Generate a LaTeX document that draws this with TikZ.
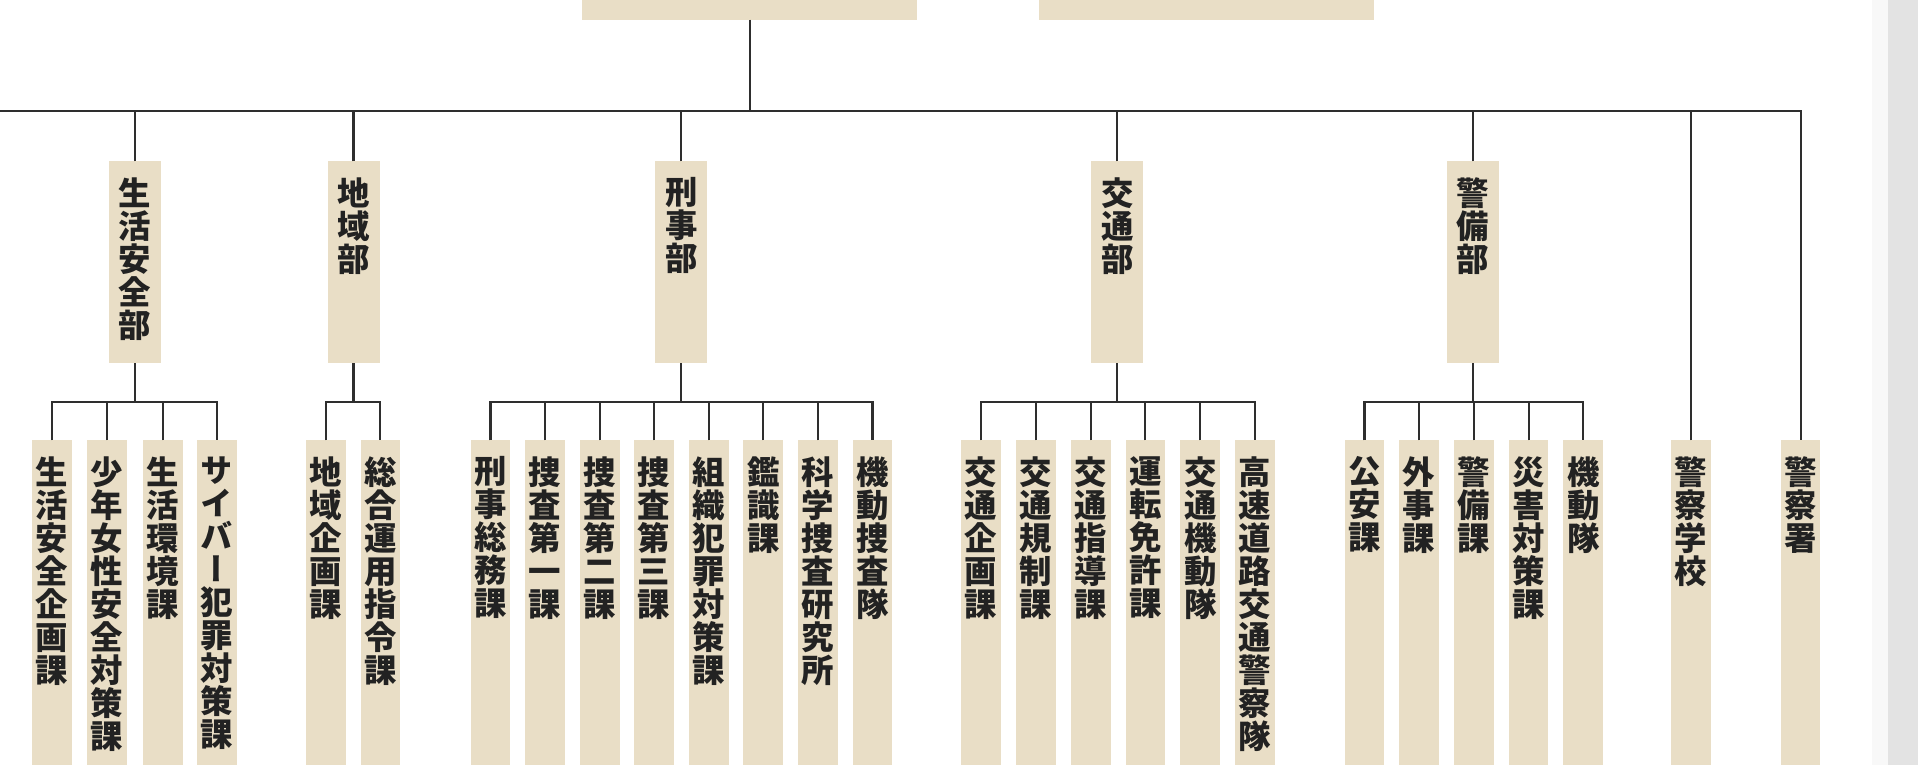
\documentclass[tikz,border=0pt]{standalone}
\usepackage{fontspec}
\newfontfamily\jp{Noto Sans CJK JP}[RawFeature={+vert}]
\definecolor{boxcol}{HTML}{E9DEC6}
\definecolor{linecol}{HTML}{2E2E2E}
\definecolor{txtcol}{HTML}{222222}
\definecolor{sidecol}{HTML}{E3E3E3}
\definecolor{bandcol}{HTML}{F8F8F8}
\begin{document}
\begin{tikzpicture}[x=1pt,y=-1pt,
  conn/.style={draw=linecol, line width=1.7pt},
  topbox/.style={fill=boxcol, minimum width=274pt, minimum height=16pt, inner sep=0pt, outer sep=0pt, anchor=north west},
  dept/.style={fill=boxcol, minimum width=42.5pt, minimum height=165pt, inner sep=0pt, outer sep=0pt},
  subbox/.style={fill=boxcol, minimum width=32.5pt, minimum height=265pt, inner sep=0pt, outer sep=0pt},
  vtext/.style={font=\jp\bfseries\fontsize{26.5}{27}\selectfont, align=center, inner sep=0pt, anchor=north, text=txtcol, yshift=-13pt}]
\useasboundingbox (0,0) rectangle (1568,625);
\fill[white] (0,0) rectangle (1568,625);
\fill[bandcol] (1530,0) rectangle (1543.6,625);
\fill[sidecol] (1543.6,0) rectangle (1568,625);

% top boxes (text cut off by the frame)
\node[topbox] (top1) at (476,0) {};
\node[topbox] (top2) at (849,0) {};

\coordinate (hl) at (0,91);
\coordinate (br) at (0,329);

% departments
\node[dept] (d1) at (110.5,214.5) {};
\node[dept] (d2) at (289,214.5) {};
\node[dept] (d3) at (557,214.5) {};
\node[dept] (d4) at (913.5,214.5) {};
\node[dept] (d5) at (1204,214.5) {};
\node[vtext] (t1) at (d1.north) {生\\活\\安\\全\\部};
\node[vtext] (t2) at (d2.north) {地\\域\\部};
\node[vtext] (t3) at (d3.north) {刑\\事\\部};
\node[vtext] (t4) at (d4.north) {交\\通\\部};
\node[vtext] (t5) at (d5.north) {警\\備\\部};

% sections
\node[subbox] (s11) at (42.5,492.5) {};
\node[subbox] (s12) at (87.5,492.5) {};
\node[subbox] (s13) at (133,492.5) {};
\node[subbox] (s14) at (177.5,492.5) {};
\node[subbox] (s21) at (266.5,492.5) {};
\node[subbox] (s22) at (311,492.5) {};
\node[subbox] (s31) at (401,492.5) {};
\node[subbox] (s32) at (445.6,492.5) {};
\node[subbox] (s33) at (490.2,492.5) {};
\node[subbox] (s34) at (534.8,492.5) {};
\node[subbox] (s35) at (579.4,492.5) {};
\node[subbox] (s36) at (624,492.5) {};
\node[subbox] (s37) at (668.6,492.5) {};
\node[subbox] (s38) at (713.3,492.5) {};
\node[subbox] (s41) at (802,492.5) {};
\node[subbox] (s42) at (846.8,492.5) {};
\node[subbox] (s43) at (891.6,492.5) {};
\node[subbox] (s44) at (936.4,492.5) {};
\node[subbox] (s45) at (981.2,492.5) {};
\node[subbox] (s46) at (1026,492.5) {};
\node[subbox] (s51) at (1115.5,492.5) {};
\node[subbox] (s52) at (1160.2,492.5) {};
\node[subbox] (s53) at (1204.9,492.5) {};
\node[subbox] (s54) at (1249.6,492.5) {};
\node[subbox] (s55) at (1294.3,492.5) {};
\node[subbox] (p1) at (1382.5,492.5) {};
\node[subbox] (p2) at (1472,492.5) {};

\node[vtext] (u11) at (s11.north) {生\\活\\安\\全\\企\\画\\課};
\node[vtext] (u12) at (s12.north) {少\\年\\女\\性\\安\\全\\対\\策\\課};
\node[vtext] (u13) at (s13.north) {生\\活\\環\\境\\課};
\node[vtext] (u14) at (s14.north) {サ\\イ\\バ\\ー\\犯\\罪\\対\\策\\課};
\node[vtext] (u21) at (s21.north) {地\\域\\企\\画\\課};
\node[vtext] (u22) at (s22.north) {総\\合\\運\\用\\指\\令\\課};
\node[vtext] (u31) at (s31.north) {刑\\事\\総\\務\\課};
\node[vtext] (u32) at (s32.north) {捜\\査\\第\\一\\課};
\node[vtext] (u33) at (s33.north) {捜\\査\\第\\二\\課};
\node[vtext] (u34) at (s34.north) {捜\\査\\第\\三\\課};
\node[vtext] (u35) at (s35.north) {組\\織\\犯\\罪\\対\\策\\課};
\node[vtext] (u36) at (s36.north) {鑑\\識\\課};
\node[vtext] (u37) at (s37.north) {科\\学\\捜\\査\\研\\究\\所};
\node[vtext] (u38) at (s38.north) {機\\動\\捜\\査\\隊};
\node[vtext] (u41) at (s41.north) {交\\通\\企\\画\\課};
\node[vtext] (u42) at (s42.north) {交\\通\\規\\制\\課};
\node[vtext] (u43) at (s43.north) {交\\通\\指\\導\\課};
\node[vtext] (u44) at (s44.north) {運\\転\\免\\許\\課};
\node[vtext] (u45) at (s45.north) {交\\通\\機\\動\\隊};
\node[vtext] (u46) at (s46.north) {高\\速\\道\\路\\交\\通\\警\\察\\隊};
\node[vtext] (u51) at (s51.north) {公\\安\\課};
\node[vtext] (u52) at (s52.north) {外\\事\\課};
\node[vtext] (u53) at (s53.north) {警\\備\\課};
\node[vtext] (u54) at (s54.north) {災\\害\\対\\策\\課};
\node[vtext] (u55) at (s55.north) {機\\動\\隊};
\node[vtext] (q1) at (p1.north) {警\\察\\学\\校};
\node[vtext] (q2) at (p2.north) {警\\察\\署};

% connectors
\draw[conn] (top1.south) -- (top1.south |- hl);
\draw[conn] (hl) -| (p2.north);
\foreach \n in {d1,d2,d3,d4,d5,p1}
  \draw[conn] (\n.north) -- (\n.north |- hl);
\foreach \d/\a/\b in {d1/s11/s14, d2/s21/s22, d3/s31/s38, d4/s41/s46, d5/s51/s55}{
  \draw[conn] (\a.north) -- (\a.north |- br) -- (\b.north |- br) -- (\b.north);
  \draw[conn] (\d.south) -- (\d.south |- br);
}
\foreach \n in {s12,s13,s32,s33,s34,s35,s36,s37,s42,s43,s44,s45,s52,s53,s54}
  \draw[conn] (\n.north) -- (\n.north |- br);
\end{tikzpicture}
\end{document}
